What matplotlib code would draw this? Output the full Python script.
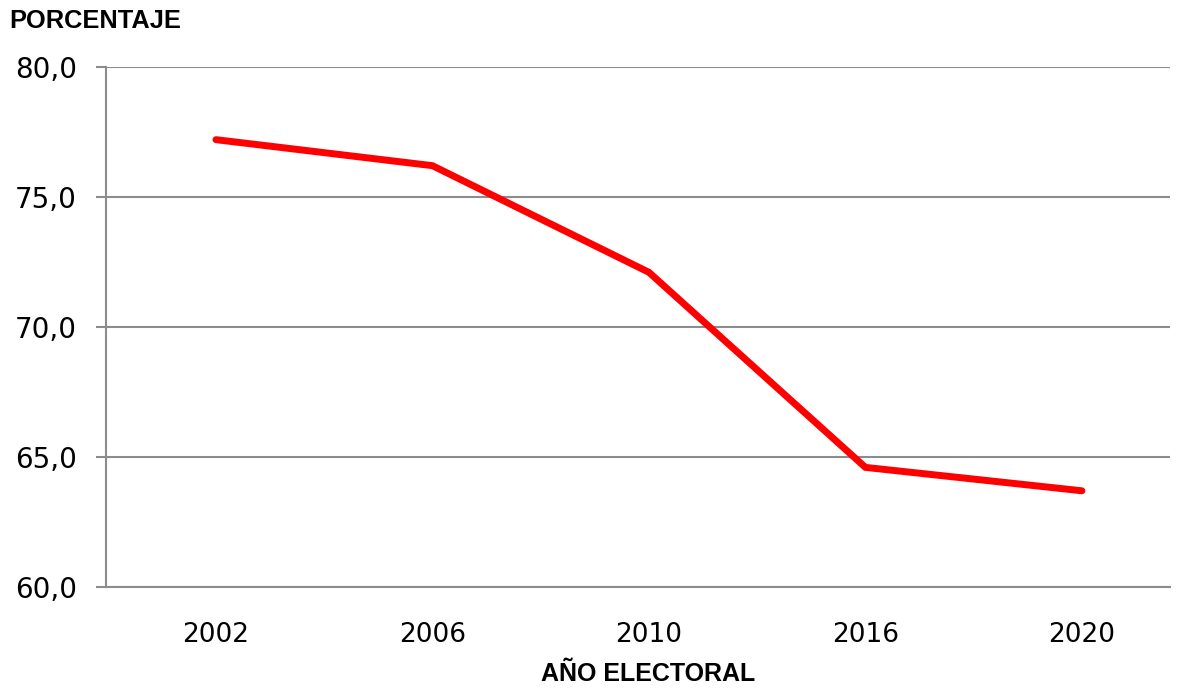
import matplotlib.pyplot as plt

# Data
years = ["2002", "2006", "2010", "2016", "2020"]
percent = [77.2, 76.2, 72.1, 64.6, 63.7]
y_ticks = [60, 65, 70, 75, 80]

GRID = "#8c8c8c"


def plot_participation():
    fig = plt.figure(figsize=(11.84, 6.89), dpi=100)
    ax = fig.add_axes([0.0895, 0.148, 0.8985, 0.755])

    x = list(range(len(years)))
    ax.plot(x, percent, color="#ff0000", linewidth=5, solid_capstyle="round", solid_joinstyle="miter", zorder=3)

    ax.set_xlim(-0.508, 4.406)
    ax.set_ylim(60, 80)
    ax.set_yticks(y_ticks)
    ax.set_yticklabels([f"{v:.1f}".replace(".", ",") for v in y_ticks], fontsize=20, family="DejaVu Sans")
    ax.set_xticks(x)
    ax.set_xticklabels(years, fontsize=19, family="DejaVu Sans")

    ax.yaxis.grid(True, color=GRID, linewidth=1.5)
    ax.set_axisbelow(True)
    for side in ("top", "right"):
        ax.spines[side].set_visible(False)
    ax.spines["left"].set_color(GRID)
    ax.spines["bottom"].set_color(GRID)
    ax.spines["left"].set_linewidth(1.5)
    ax.spines["bottom"].set_linewidth(1.5)
    ax.tick_params(axis="y", length=7, width=1.5, color=GRID, pad=14)
    ax.tick_params(axis="x", length=0, pad=25)

    fig.text(0.008, 0.952, "PORCENTAJE", fontsize=18.3, fontweight="bold", family="Liberation Sans", va="bottom")
    fig.text(0.547, 0.005, "AÑO ELECTORAL", fontsize=18, fontweight="bold", family="Liberation Sans",
             ha="center", va="bottom")

    fig.savefig("out.png", dpi=100)


if __name__ == "__main__":
    plot_participation()
